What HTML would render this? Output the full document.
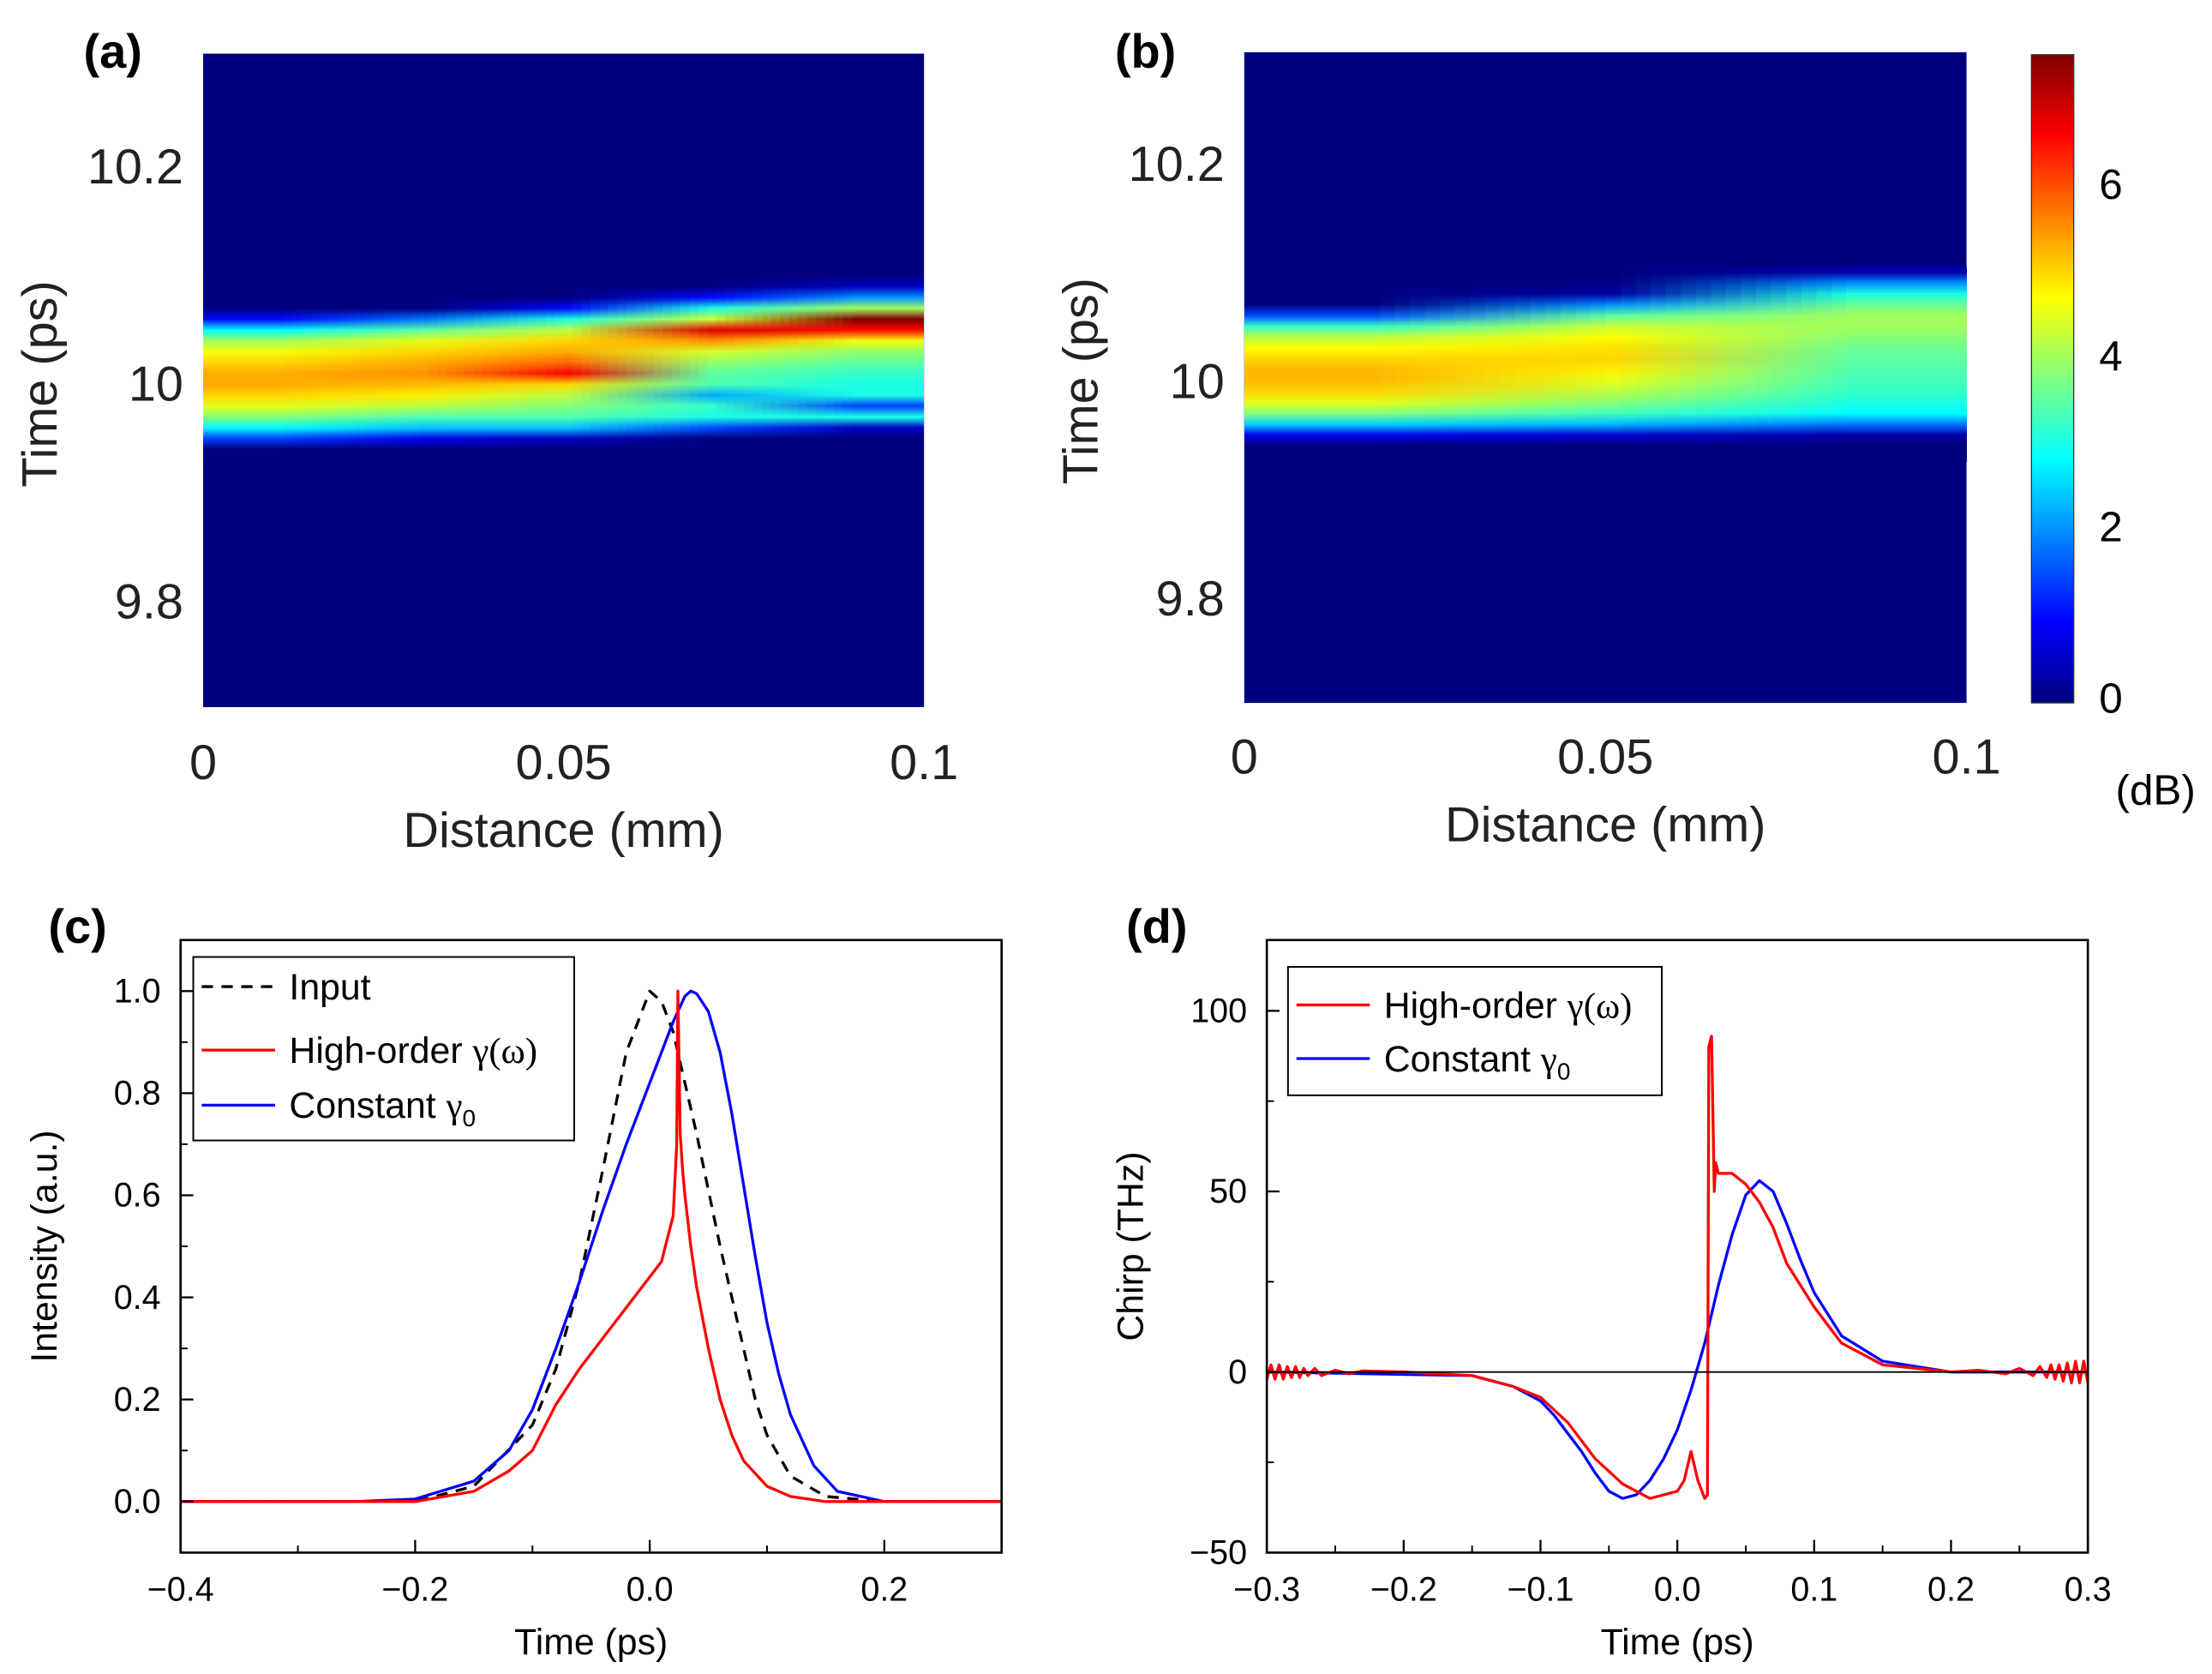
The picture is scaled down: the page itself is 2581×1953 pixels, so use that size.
<!DOCTYPE html>
<html><head><meta charset="utf-8"><style>
html,body{margin:0;padding:0;background:#fff;}
#wrap{position:relative;width:2581px;height:1953px;overflow:hidden;font-family:"Liberation Sans",Arial,sans-serif;}
svg{position:absolute;left:0;top:0;}
canvas{position:absolute;image-rendering:auto;}
</style></head><body>
<div id="wrap">
<svg id="svg" width="2581" height="1953" viewBox="0 0 1568 1186" preserveAspectRatio="none"></svg>
</div>
<script>
// ---------- Heatmap data (dB) ----------
const hmTimes = [10.10,10.09,10.08,10.07,10.06,10.05,10.04,10.03,10.02,10.01,10.00,9.99,9.98,9.97,9.96,9.95,9.94,9.93];
const hmA_dist = [0,0.025,0.05,0.075,0.1];
const hmA_vals = [
 [0,0,0,0,1,2.8,4,4.6,5,5.3,5.3,5,4.5,3.8,2.8,1.4,0,0],
 [0,0,0,0,1.8,3.5,4.5,5,5.3,5.5,5.2,4.8,4.2,3.4,2.4,0.8,0,0],
 [0,0,0,1,3,4.2,5,5.3,5.8,6.6,5,4.2,3.8,3.4,2.4,0.5,0,0],
 [0,0,1,3,4.3,6.8,5.5,4.4,3.9,3.5,3.4,2.2,3.2,3,1.5,0,0,0],
 [0,0.5,2,4,7.5,6.5,4.6,3.9,3.5,3.2,3,3,1.4,3,0.5,0,0,0]
];
const hmB_dist = [0,0.05,0.1];
const hmB_vals = [
 [0,0,0,0,1.5,3.2,4.2,4.7,5,5.2,5.2,5,4.5,3.8,2.5,0.8,0,0],
 [0,0,0.3,2,3.5,4.3,4.7,4.9,5,4.8,4.5,4.2,3.8,3.3,2.3,0.6,0,0],
 [0.3,2,3,3.6,4,4,3.8,3.6,3.5,3.4,3.3,3.2,3,2.8,1.8,0.3,0,0]
];
const cbTicks = [0,2,4,6];
const hmXTicks = [0,0.05,0.1];
const hmXTickLabels = ["0","0.05","0.1"];
const hmYTicks = [10.2,10,9.8];
const hmYTickLabels = ["10.2","10","9.8"];

// ---------- Panel (c) data ----------
const inT = [-0.4,-0.2,-0.15,-0.1,-0.08,-0.06,-0.04,-0.02,0,0.01,0.02,0.04,0.06,0.08,0.09,0.1,0.12,0.15,0.2,0.3];
const inI = [0,0,0.03,0.15,0.26,0.43,0.65,0.88,1.0,0.98,0.92,0.72,0.5,0.3,0.2,0.13,0.05,0.01,0,0];
const hoT = [-0.4,-0.2,-0.15,-0.12,-0.1,-0.08,-0.06,-0.04,-0.02,0,0.01,0.02,0.023,0.024,0.026,0.028,0.03,0.035,0.04,0.05,0.06,0.07,0.08,0.1,0.12,0.15,0.3];
const hoI = [0,0,0.02,0.06,0.1,0.19,0.26,0.32,0.38,0.44,0.47,0.56,0.7,1.0,0.72,0.65,0.6,0.5,0.42,0.3,0.2,0.13,0.08,0.03,0.01,0,0];
const cgT = [-0.4,-0.25,-0.2,-0.15,-0.12,-0.1,-0.08,-0.06,-0.04,-0.02,0,0.01,0.02,0.03,0.035,0.04,0.05,0.06,0.07,0.08,0.09,0.1,0.11,0.12,0.14,0.16,0.2,0.3];
const cgI = [0,0,0.005,0.04,0.1,0.18,0.3,0.43,0.57,0.7,0.82,0.88,0.94,0.99,1.0,0.995,0.96,0.88,0.76,0.62,0.48,0.35,0.25,0.17,0.07,0.02,0,0];
const cXTicks = [-0.4,-0.2,0,0.2];
const cXLabels = ["\u22120.4","\u22120.2","0.0","0.2"];
const cYTicks = [0,0.2,0.4,0.6,0.8,1.0];
const cYLabels = ["0.0","0.2","0.4","0.6","0.8","1.0"];

// ---------- Panel (d) data ----------
const dhT = [-0.3,-0.297,-0.294,-0.291,-0.288,-0.285,-0.282,-0.279,-0.276,-0.273,-0.27,-0.265,-0.26,-0.25,-0.24,-0.23,-0.2,-0.15,-0.12,-0.1,-0.08,-0.06,-0.04,-0.02,0,0.005,0.01,0.015,0.02,0.022,0.023,0.025,0.027,0.028,0.03,0.04,0.05,0.06,0.07,0.08,0.1,0.12,0.15,0.2,0.22,0.24,0.25,0.26,0.265,0.27,0.273,0.276,0.279,0.282,0.285,0.288,0.291,0.294,0.297,0.3];
const dhC = [-2,2,-2,2,-2,1.5,-1.5,1.5,-1.5,1,-1,1,-1,0.5,-0.5,0.3,0,-1,-4,-7,-14,-24,-31,-35,-33,-30,-22,-30,-35,-34,90,93,50,58,55,55,52,47,40,30,18,8,2,0,0.5,-0.5,1,-1,1.5,-1.5,2,-2,2,-2.5,2.5,-3,3,-3,3,-3];
const dcT = [-0.3,-0.15,-0.12,-0.1,-0.09,-0.08,-0.07,-0.06,-0.05,-0.04,-0.03,-0.02,-0.01,0,0.01,0.02,0.03,0.04,0.05,0.06,0.07,0.08,0.09,0.1,0.12,0.15,0.2,0.3];
const dcC = [0,-1,-4,-8,-12,-17,-22,-28,-33,-35,-34,-30,-24,-16,-5,8,24,38,49,53,50,41,31,22,10,3,0,0];
const dXTicks = [-0.3,-0.2,-0.1,0,0.1,0.2,0.3];
const dXLabels = ["\u22120.3","\u22120.2","\u22120.1","0.0","0.1","0.2","0.3"];
const dYTicks = [-50,0,50,100];
const dYLabels = ["\u221250","0","50","100"];

const svg = document.getElementById('svg');
const NS = 'http://www.w3.org/2000/svg';
function mk(tag, attrs, parent){const e=document.createElementNS(NS,tag);for(const k in attrs)e.setAttribute(k,attrs[k]);(parent||svg).appendChild(e);return e;}
function txt(x,y,s,size,anchor,parent,extra){const t=mk('text',Object.assign({x:x,y:y,'font-size':size,'text-anchor':anchor||'middle','font-family':'Liberation Sans, Arial, sans-serif',fill:'#000'},extra||{}),parent);t.textContent=s;return t;}
const S = 2581/1568;

function jet(v){
  const stops=[[0,[0,0,127]],[0.125,[0,0,255]],[0.375,[0,255,255]],[0.625,[255,255,0]],[0.875,[255,0,0]],[1,[127,0,0]]];
  v=Math.max(0,Math.min(1,v));
  for(let i=1;i<stops.length;i++){if(v<=stops[i][0]){const a=stops[i-1],b=stops[i];const f=(v-a[0])/(b[0]-a[0]);return a[1].map((c,j)=>Math.round(c+(b[1][j]-c)*f));}}
  return stops[stops.length-1][1];
}
const VMAX=7.5;

function heatmap(name,x0,x1,yTop,yBot,y10,dists,vals,label,labelX,xlabY){
  const g=mk('g',{});
  
  
  const yOf=t=>y10-(t-10)*770;
  const xOf=d=>x0+(d/0.1)*(x1-x0);
  const bg=mk('rect',{x:x0,y:yTop,width:x1-x0,height:yBot-yTop,fill:'#00007f'},g);
  
  
  const cv=document.createElement('canvas');
  
  
  cv.width=dists.length;cv.height=hmTimes.length;
  const ctx=cv.getContext('2d');const im=ctx.createImageData(cv.width,cv.height);
  for(let c=0;c<dists.length;c++)for(let r=0;r<hmTimes.length;r++){const col=jet(vals[c][r]/VMAX);const k=(r*cv.width+c)*4;im.data[k]=col[0];im.data[k+1]=col[1];im.data[k+2]=col[2];im.data[k+3]=255;}
  ctx.putImageData(im,0,0);
  const dt=0.01;
  const top=yOf(hmTimes[0]+dt/2), bot=yOf(hmTimes[hmTimes.length-1]-dt/2);
  cv.style.left=(xOf(dists[0])*S)+'px';cv.style.width=((xOf(dists[dists.length-1])-xOf(dists[0]))*S)+'px';
  cv.style.top=(top*S)+'px';cv.style.height=((bot-top)*S)+'px';
  document.getElementById('wrap').appendChild(cv);
  hmYTicks.forEach((t,i)=>{const e=txt(x0-14,yOf(t)+12,hmYTickLabels[i],35,'end',g,{fill:'#222'});});
  hmXTicks.forEach((d,i)=>{const e=txt(xOf(d),xlabY,hmXTickLabels[i],35,'middle',g,{fill:'#222'});});
  const xl=txt((x0+x1)/2,xlabY+48,'Distance (mm)',35,'middle',g,{fill:'#222'});
  const yl=txt(0,0,'Time (ps)',35,'middle',g,{fill:'#222',transform:`translate(${x0-104},${y10}) rotate(-90)`});
  const pl=txt(labelX,48,label,34,'middle',g,{'font-weight':'bold'});
}
heatmap('heatmap-a',144,655,38,501,272,hmA_dist,hmA_vals,'(a)',80,552);
heatmap('heatmap-b',882,1394,37,498,270,hmB_dist,hmB_vals,'(b)',812,548);

(function(){
  const g=mk('g',{});
  const defs=mk('defs',{},g);const lg=mk('linearGradient',{id:'jet',x1:0,y1:1,x2:0,y2:0},defs);
  [[0,'#00007f'],[0.125,'#0000ff'],[0.375,'#00ffff'],[0.625,'#ffff00'],[0.875,'#ff0000'],[1,'#7f0000']].forEach(s=>mk('stop',{offset:s[0],'stop-color':s[1]},lg));
  const yOf=v=>494-v*60.7;
  mk('rect',{x:1440,y:yOf(VMAX),width:30,height:yOf(0)-yOf(VMAX)+4,fill:'url(#jet)',stroke:'#333','stroke-width':0.8},g);
  cbTicks.forEach(v=>{const e=txt(1488,yOf(v)+11,String(v),30,'start',g);});
  const u=txt(1528,570,'(dB)',30,'middle',g);
})();

function linePanel(name,box,xr,yr,xt,xl,yt,yl,minorX,minorY,series,xTitle,yTitle,label,labelXY,legend){
  const g=mk('g',{});
  const [X0,Y0,X1,Y1]=box;
  const xs=v=>X0+(v-xr[0])/(xr[1]-xr[0])*(X1-X0);
  const ys=v=>Y1-(v-yr[0])/(yr[1]-yr[0])*(Y1-Y0);
  const cp=mk('clipPath',{id:name+'-clip'},g);mk('rect',{x:X0,y:Y0,width:X1-X0,height:Y1-Y0},cp);
  series.forEach(s=>{
    const p=mk('polyline',{points:s.t.map((t,i)=>xs(t)+','+ys(s.v[i])).join(' '),fill:'none',stroke:s.color,'stroke-width':2,'stroke-linejoin':'round','stroke-dasharray':s.dash||'none','clip-path':`url(#${name}-clip)`},g);
    
    
  });
  mk('rect',{x:X0,y:Y0,width:X1-X0,height:Y1-Y0,fill:'none',stroke:'#000','stroke-width':1.6},g);
  xt.forEach((v,i)=>{mk('line',{x1:xs(v),x2:xs(v),y1:Y1,y2:Y1-9,stroke:'#000','stroke-width':1.4},g);const e=txt(xs(v),Y1+34,xl[i],24,'middle',g);});
  minorX.forEach(v=>mk('line',{x1:xs(v),x2:xs(v),y1:Y1,y2:Y1-5,stroke:'#000','stroke-width':1.2},g));
  yt.forEach((v,i)=>{mk('line',{x1:X0,x2:X0+9,y1:ys(v),y2:ys(v),stroke:'#000','stroke-width':1.4},g);const e=txt(X0-14,ys(v)+8,yl[i],24,'end',g);});
  minorY.forEach(v=>mk('line',{x1:X0,x2:X0+5,y1:ys(v),y2:ys(v),stroke:'#000','stroke-width':1.2},g));
  const xtl=txt((X0+X1)/2,Y1+72,xTitle,26,'middle',g);
  const ytl=txt(0,0,yTitle,26,'middle',g,{transform:`translate(${X0-88},${(Y0+Y1)/2}) rotate(-90)`});
  const pl=txt(labelXY[0],labelXY[1],label,34,'middle',g,{'font-weight':'bold'});
  const lgG=mk('g',{},g);
  mk('rect',{x:legend.box[0],y:legend.box[1],width:legend.box[2],height:legend.box[3],fill:'#fff',stroke:'#000','stroke-width':1.2},lgG);
  legend.items.forEach(it=>{
    const eg=mk('g',{},lgG);
    mk('line',{x1:legend.box[0]+6,x2:legend.box[0]+58,y1:it.y,y2:it.y,stroke:it.color,'stroke-width':2,'stroke-dasharray':it.dash||'none'},eg);
    const t=mk('text',{x:legend.box[0]+68,y:it.y+9,'font-size':26,'font-family':'Liberation Sans, Arial, sans-serif'},eg);
    t.innerHTML=it.html;
  });
  return {xs,ys,g};
}
const mC=[-0.3,-0.1,0.1];
const pc=linePanel('panel-c',[128,666,710,1100],[-0.4,0.3],[-0.1,1.1],cXTicks,cXLabels,cYTicks,cYLabels,mC,[-0.1,0.1,0.3,0.5,0.7,0.9],
 [{name:'input-line',t:inT,v:inI,color:'#000',dash:'8,6'},{name:'constant-gamma-line',t:cgT,v:cgI,color:'#0000ff'},{name:'high-order-gamma-line',t:hoT,v:hoI,color:'#ff0000'}],
 'Time (ps)','Intensity (a.u.)','(c)',[55,668],
 {box:[137,678,270,130],items:[{y:699,color:'#000',dash:'8,6',html:'Input'},{y:744,color:'#ff0000',html:'High-order <tspan font-family="Liberation Serif, serif">γ(ω)</tspan>'},{y:783,color:'#0000ff',html:'Constant <tspan font-family="Liberation Serif, serif">γ</tspan><tspan font-size="17" dy="6">0</tspan>'}]});
const mD=[-0.25,-0.15,-0.05,0.05,0.15,0.25];
const pd=linePanel('panel-d',[898,666,1480,1100],[-0.3,0.3],[-50,119.6],dXTicks,dXLabels,dYTicks,dYLabels,mD,[-25,25,75],
 [{name:'constant-gamma-chirp-line',t:dcT,v:dcC,color:'#0000ff'},{name:'high-order-gamma-chirp-line',t:dhT,v:dhC,color:'#ff0000'}],
 'Time (ps)','Chirp (THz)','(d)',[820,668],
 {box:[913,685,265,91],items:[{y:712,color:'#ff0000',html:'High-order <tspan font-family="Liberation Serif, serif">γ(ω)</tspan>'},{y:750,color:'#0000ff',html:'Constant <tspan font-family="Liberation Serif, serif">γ</tspan><tspan font-size="17" dy="6">0</tspan>'}]});
const zl=mk('line',{x1:898,x2:1480,y1:pd.ys(0),y2:pd.ys(0),stroke:'#000','stroke-width':1.2},pd.g);


</script>
</body></html>
